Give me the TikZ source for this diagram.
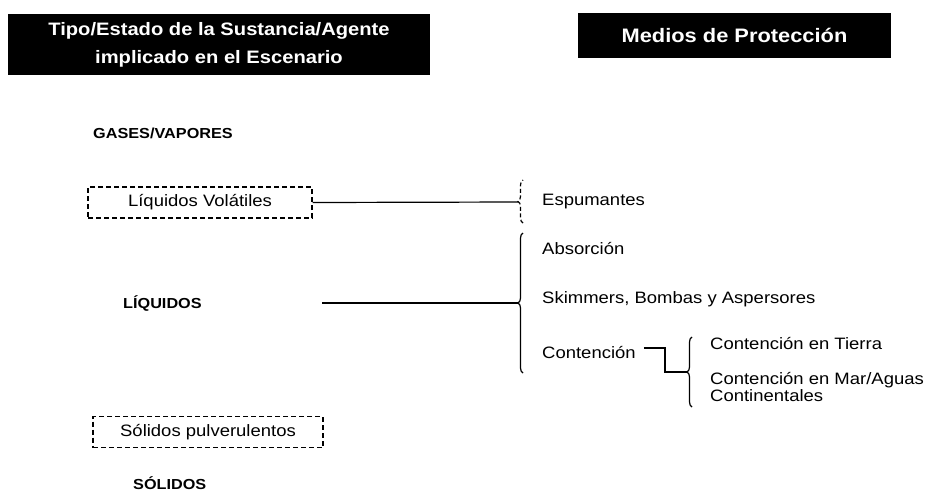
\documentclass[tikz,border=0pt]{standalone}
\usepackage{fontspec}
\setmainfont{Liberation Sans}[FakeStretch=1.12]
\usetikzlibrary{positioning, decorations.pathreplacing}

\tikzset{
  hdr/.style={fill=black, text=white, inner sep=0pt, align=center,
    font=\bfseries\fontsize{18}{28}\selectfont},
  dbox/.style={draw, dash pattern=on 5pt off 3pt, line width=1.2pt, inner sep=0pt,
    minimum height=31pt, font=\fontsize{16.5}{18}\selectfont},
  lbl/.style={anchor=west, inner sep=0pt, align=left, font=\fontsize{16.5}{17.5}\selectfont},
  cat/.style={anchor=west, inner sep=0pt, font=\bfseries\fontsize{14.5}{16}\selectfont},
  brc/.style={decorate, decoration={brace, amplitude=5pt}, line width=1.2pt},
  wire/.style={line width=1.2pt}
}

\begin{document}
\begin{tikzpicture}[x=1pt, y=-1pt]
\useasboundingbox (0,0) rectangle (926,491);

% cabeceras
\node[hdr, minimum width=422pt, minimum height=61pt] (H1) at (219,44.5)
  {Tipo/Estado de la Sustancia/Agente\\implicado en el Escenario};
\node[hdr, minimum width=313pt, minimum height=45pt, font=\bfseries\fontsize{19.5}{24}\selectfont]
  (H2) at (734.5,35.5) {Medios de Protección};

% tipos de sustancia
\node[cat] (GAS) at (93,133) {GASES/VAPORES};
\node[dbox, minimum width=224pt] (VOL) at (200,202.5) {Líquidos Volátiles};
\node[cat] (LIQ) at (123,303) {LÍQUIDOS};
\node[dbox, minimum width=230pt] (PUL) at (208,432) {Sólidos pulverulentos};
\node[cat] (SOL) at (133,483) {SÓLIDOS};

% medios
\node[lbl] (ESP) at (542,202) {Espumantes};
\node[lbl] (ABS) at (542,248) {Absorción};
\node[lbl] (SKI) at (542,299) {Skimmers, Bombas y Aspersores};
\node[lbl] (CON) at (542,352) {Contención};
\node[lbl] (TIE) at (710,343) {Contención en Tierra};
\node[lbl] (MAR) at (710,387) {Contención en Mar/Aguas\\Continentales};

% llaves
\draw[brc, dash pattern=on 4pt off 2.5pt] (523,223) -- (523,180);
\draw[brc] (523,373) -- (523,233);
\draw[brc] (692,407) -- (692,337);
\coordinate (B1) at (518,202);
\coordinate (B2) at (518,303);
\coordinate (B3) at (687,372);
\coordinate (L0) at (322,303);

% conectores
\draw[wire] (VOL.east) -- (B1);
\draw[wire] (L0) -- (B2);
\draw[wire] ([xshift=8pt]CON.east |- 0,348) -- (665,348) |- (B3);
\end{tikzpicture}
\end{document}
